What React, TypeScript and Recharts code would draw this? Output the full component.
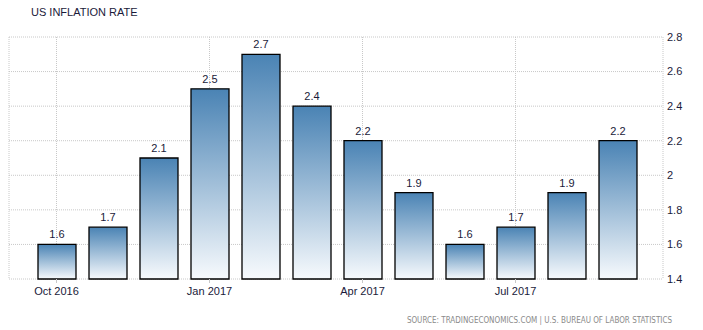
import React from "react";
import { BarChart, Bar, XAxis, YAxis, CartesianGrid, LabelList } from "recharts";

const months = [
  "Oct 2016", "Nov 2016", "Dec 2016", "Jan 2017", "Feb 2017", "Mar 2017",
  "Apr 2017", "May 2017", "Jun 2017", "Jul 2017", "Aug 2017", "Sep 2017",
];
const inflation = [1.6, 1.7, 2.1, 2.5, 2.7, 2.4, 2.2, 1.9, 1.6, 1.7, 1.9, 2.2];
const xTicks = ["Oct 2016", "Jan 2017", "Apr 2017", "Jul 2017"];
const yTicks = [1.4, 1.6, 1.8, 2, 2.2, 2.4, 2.6, 2.8];

const data = months.map((m, i) => ({ month: m, value: inflation[i] }));

const FONT = "'Liberation Sans', Arial, sans-serif";
const NARROW = "'Liberation Sans Narrow', 'DejaVu Sans Condensed', 'Liberation Sans', sans-serif";

export default function App() {
  return (
    <div style={{ position: "absolute", left: 0, top: 0, width: 703, height: 330, background: "#fff", overflow: "hidden" }}>
      <div
        style={{
          position: "absolute",
          left: 31,
          top: 6,
          fontFamily: FONT,
          fontSize: 11,
          color: "#1a1a3a",
          whiteSpace: "nowrap",
        }}
      >
        US INFLATION RATE
      </div>
      <BarChart
        width={703}
        height={330}
        data={data}
        margin={{ top: 37, right: 0, left: 9, bottom: 21 }}
      >
        <defs>
          <linearGradient id="barGrad" x1="0" y1="0" x2="0" y2="1">
            <stop offset="0%" stopColor="#4a83b4" />
            <stop offset="100%" stopColor="#f7fafd" />
          </linearGradient>
        </defs>
        <CartesianGrid stroke="#c8c8c8" strokeDasharray="1 1" />
        <XAxis
          dataKey="month"
          ticks={xTicks}
          interval={0}
          padding={{ left: 22, right: 20 }}
          axisLine={false}
          tickLine={{ stroke: "#c8c8c8" }}
          tickSize={4}
          tickMargin={4}
          height={30}
          tick={{ fontFamily: FONT, fontSize: 11, fill: "#1a1a3a" }}
        />
        <YAxis
          orientation="right"
          domain={[1.4, 2.8]}
          ticks={yTicks}
          axisLine={false}
          tickLine={false}
          tickSize={0}
          tickMargin={4}
          width={40}
          tick={{ fontFamily: FONT, fontSize: 11, fill: "#1a1a3a", textAnchor: "start" }}
        />
        <Bar
          dataKey="value"
          fill="url(#barGrad)"
          stroke="#000"
          strokeWidth={1.3}
          barSize={38}
          isAnimationActive={false}
        >
          <LabelList
            dataKey="value"
            position="top"
            offset={6}
            style={{ fontFamily: FONT, fontSize: 11, fill: "#1a1a3a" }}
          />
        </Bar>
      </BarChart>
      <div
        style={{
          position: "absolute",
          right: 31,
          top: 315,
          fontFamily: NARROW,
          fontSize: 8,
          lineHeight: "11px",
          color: "#8a8a8a",
          whiteSpace: "nowrap",
        }}
      >
        SOURCE: TRADINGECONOMICS.COM | U.S. BUREAU OF LABOR STATISTICS
      </div>
    </div>
  );
}
